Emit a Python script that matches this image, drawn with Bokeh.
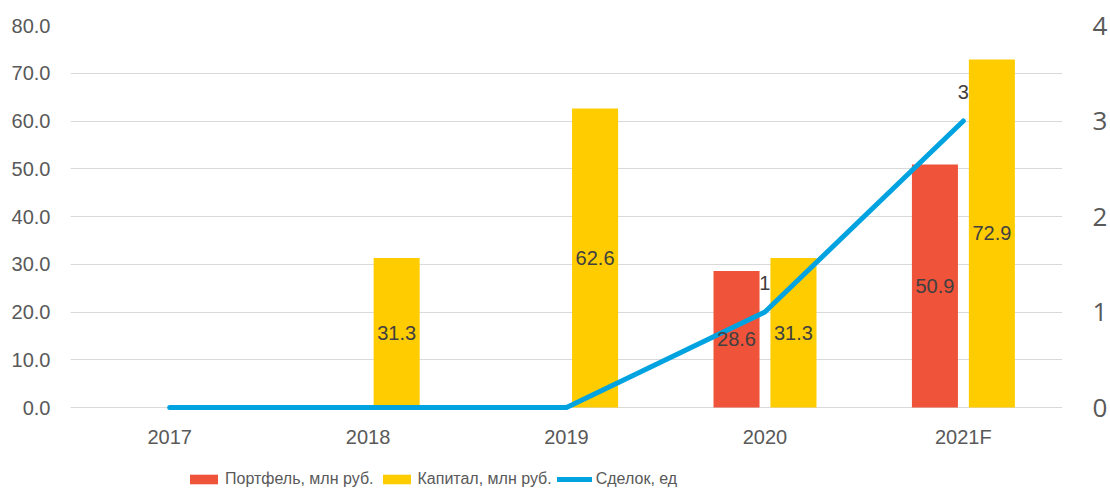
from bokeh.plotting import figure
from bokeh.models import (FactorRange, Range1d, LinearAxis, LabelSet, ColumnDataSource,
                          Legend, LegendItem, FixedTicker, NumeralTickFormatter)
from bokeh.core.properties import value
from bokeh.transform import dodge
from bokeh.embed import file_html
from bokeh.resources import INLINE

years = ["2017", "2018", "2019", "2020", "2021F"]
portfolio = [0, 0, 0, 28.6, 50.9]
capital = [0, 31.3, 62.6, 31.3, 72.9]
deals = [0, 0, 0, 1, 3]

RED = "#EF533A"
YEL = "#FFCC00"
BLUE = "#00A3E0"
TXT = "#404040"
AX = "#595959"

W, H = 1110, 489
TOP, ZERO = 25, 407          # pixel rows of 80 and 0
Y_MAX = 80
Y_MIN = -Y_MAX * (H - ZERO) / (ZERO - TOP)   # room below zero for category labels + legend

src = ColumnDataSource(dict(year=years, portfolio=portfolio, capital=capital, deals=deals))

p = figure(x_range=FactorRange(*years), y_range=Range1d(Y_MIN, Y_MAX), width=W, height=H,
           output_backend="svg", toolbar_location=None, x_axis_location=None,
           min_border_left=70, min_border_right=47, min_border_top=TOP, min_border_bottom=0)
p.extra_y_ranges = {"deals": Range1d(Y_MIN / 20, Y_MAX / 20)}
p.outline_line_color = None

r_red = p.vbar(x=dodge("year", -0.143, range=p.x_range), top="portfolio", width=0.232,
               source=src, fill_color=RED, line_color=None)
r_yel = p.vbar(x=dodge("year", 0.144, range=p.x_range), top="capital", width=0.232,
               source=src, fill_color=YEL, line_color=None)
r_line = p.line(x="year", y="deals", source=src, y_range_name="deals", line_width=5,
                line_color=BLUE, line_cap="round", line_join="round")

# bar labels (middle of bar)
def lab_src(vals):
    xs = [y for y, v in zip(years, vals) if v]
    ys = [v / 2 for v in vals if v]
    ts = [f"{v:.1f}" for v in vals if v]
    return ColumnDataSource(dict(x=xs, y=ys, t=ts))

for vals, off in ((portfolio, -0.143), (capital, 0.144)):
    p.add_layout(LabelSet(x=dodge("x", off, range=p.x_range), y="y", text="t", source=lab_src(vals),
                          text_align="center", text_baseline="middle",
                          text_font=value("Liberation Sans"),
                          text_font_size="20px", text_color=TXT))

dl = ColumnDataSource(dict(x=[y for y, d in zip(years, deals) if d],
                           y=[d for d in deals if d],
                           t=[str(d) for d in deals if d]))
p.add_layout(LabelSet(x="x", y="y", text="t", source=dl, y_range_name="deals",
                      text_align="center", text_baseline="middle", y_offset=29, x_offset=0,
                      text_font=value("Liberation Sans"), text_font_size="20px", text_color=TXT))

# category labels under the zero line
cat = ColumnDataSource(dict(x=years, y=[0] * len(years), t=years))
p.add_layout(LabelSet(x="x", y="y", text="t", source=cat, y_offset=-29,
                      text_align="center", text_baseline="middle",
                      text_font=value("Liberation Sans"), text_font_size="20px", text_color=AX))

# axes
p.yaxis.ticker = FixedTicker(ticks=list(range(0, 81, 10)))
p.yaxis.formatter = NumeralTickFormatter(format="0.0")
ax = p.yaxis
ax.axis_line_color = None
ax.major_tick_line_color = None
ax.minor_tick_line_color = None
ax.major_tick_out = 0
ax.minor_tick_out = 0
ax.major_label_text_font = "Liberation Sans"
ax.major_label_text_font_size = "20px"
ax.major_label_text_color = AX
ax.major_label_standoff = 20

ra = LinearAxis(y_range_name="deals", ticker=FixedTicker(ticks=[0, 1, 2, 3, 4]),
                axis_line_color=None, major_tick_line_color=None, minor_tick_line_color=None,
                major_tick_out=0, minor_tick_out=0,
                major_label_text_font="Open Sans", major_label_text_font_size="26px",
                major_label_text_color=AX, major_label_standoff=30)
p.add_layout(ra, "right")

p.xgrid.grid_line_color = None
p.ygrid.grid_line_color = "#D9D9D9"
p.ygrid.grid_line_width = 1

legend = Legend(items=[LegendItem(label="Портфель, млн руб.", renderers=[r_red]),
                       LegendItem(label="Капитал, млн руб.", renderers=[r_yel]),
                       LegendItem(label="Сделок, ед", renderers=[r_line])],
                orientation="horizontal", location=(116, 0), glyph_width=35, glyph_height=12,
                label_text_font="Liberation Sans", label_text_font_size="16px",
                label_text_color=AX, label_standoff=4, spacing=5, padding=0, margin=0,
                border_line_alpha=0, background_fill_alpha=0, label_height=20)
p.add_layout(legend)

open("out.html", "w").write(file_html(p, INLINE))
